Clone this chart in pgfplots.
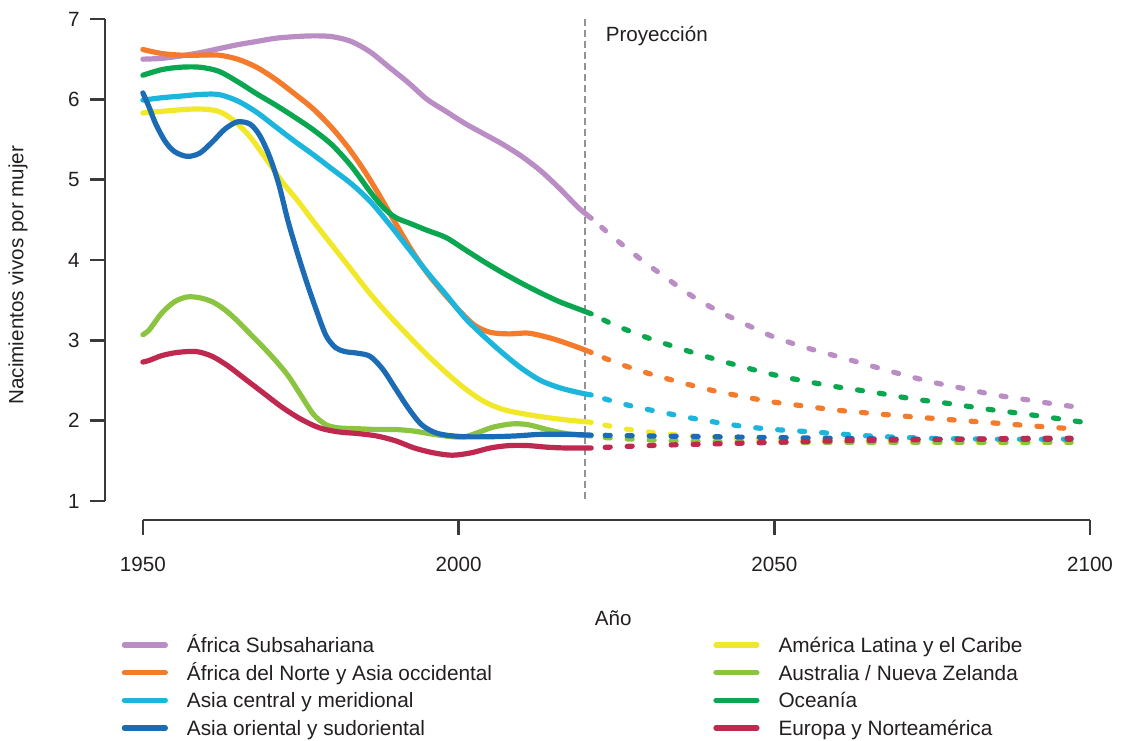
\documentclass[border=0pt]{standalone}
\usepackage{fontspec}
\setmainfont{Liberation Sans}
\usepackage{pgfplots}
\pgfplotsset{compat=1.18}

\definecolor{cSub}{HTML}{BA8DC5}
\definecolor{cNor}{HTML}{F47B2B}
\definecolor{cCen}{HTML}{1CB6DD}
\definecolor{cOri}{HTML}{1B6CB5}
\definecolor{cLat}{HTML}{F2E82A}
\definecolor{cAus}{HTML}{8BC441}
\definecolor{cOce}{HTML}{0BA650}
\definecolor{cEur}{HTML}{C0294F}
\definecolor{axisgray}{HTML}{3A3A3A}
\definecolor{txt}{HTML}{231F20}

\pgfplotsset{
  hist/.style={line width=2.6pt, line cap=round, line join=round, smooth, tension=0.5},
  proj/.style={line width=2.6pt, line cap=round, smooth, tension=0.5,
    dash pattern=on 2.5pt off 8.5pt, dash phase=4pt, forget plot},
}

\begin{document}
\begin{tikzpicture}
\begin{axis}[
  width=492.5pt, height=250.5pt, scale only axis,
  xmin=1944, xmax=2100, ymin=0.7635, ymax=7,
  clip=false,
  axis lines*=left,
  axis line style={draw=none},
  xtick={1950,2000,2050,2100},
  ytick={1,2,3,4,5,6,7},
  minor tick num=0,
  tick align=outside,
  major tick length=7.5pt,
  tick style={line width=1.2pt, color=axisgray},
  /pgf/number format/assume math mode=true,
  /pgf/number format/1000 sep={},
  ticklabel style={font=\fontsize{10.3}{12}\selectfont, text=txt, inner sep=0pt},
  xticklabel style={anchor=north, yshift=-10.8pt},
  yticklabel style={anchor=east, xshift=-5pt},
  xlabel={Año},
  ylabel={Nacimientos vivos por mujer},
  every axis x label/.style={at={(axis description cs:0.516,-0.196)}, anchor=center,
    font=\fontsize{10.3}{12}\selectfont, text=txt},
  every axis y label/.style={at={(axis description cs:-0.0883,0.489)}, rotate=90, anchor=center,
    font=\fontsize{10.3}{12}\selectfont, text=txt},
  legend columns=2,
  legend cell align=left,
  legend image code/.code={\draw[#1, line cap=round] (0pt,0pt) -- (20.5pt,0pt);},
  legend style={
    at={(axis description cs:0.017,-0.2347)}, anchor=north west,
    draw=none, fill=none, inner sep=0pt, outer sep=0pt,
    font=\fontsize{10.4}{12}\selectfont, text=txt,
    nodes={inner xsep=0pt, inner ysep=0pt, text height=7.4pt, text depth=0pt},
    row sep=6.43pt,
    /tikz/every odd column/.append style={column sep=9.5pt},
    /tikz/every even column/.append style={column sep=110.6pt},
  },
]

% axis lines, drawn apart as in the original
\draw[axisgray, line width=1.2pt] (axis cs:1944,1) -- (axis cs:1944,7);
\draw[axisgray, line width=1.2pt] (axis cs:1950,0.7635) -- (axis cs:2100,0.7635);

% start of the projection
\addplot[gray!85, line width=0.8pt, dash pattern=on 3.5pt off 2pt, forget plot]
  coordinates {(2020,7) (2020,1)};
\node[anchor=west, font=\fontsize{10.3}{12}\selectfont, text=txt] at (axis cs:2022.2,6.79) {Proyección};

% ---- observed (legend order row by row) ----
\addplot[hist, cSub] coordinates {
(1950,6.50) (1953,6.51) (1956,6.54) (1959,6.58) (1962,6.63) (1965,6.68)
(1968,6.72) (1971,6.76) (1974,6.78) (1977,6.79) (1980,6.78) (1983,6.72)
(1986,6.59) (1989,6.40) (1992,6.21) (1995,6.00) (1998,5.85) (2001,5.70)
(2004,5.57) (2007,5.44) (2010,5.29) (2013,5.11) (2016,4.89) (2019,4.65)
(2021,4.52)
};
\addlegendentry{África Subsahariana}

\addplot[hist, cLat] coordinates {
(1950,5.83) (1953,5.85) (1956,5.87) (1959,5.88) (1962,5.85) (1964.5,5.73)
(1967,5.53) (1969.5,5.26) (1972,4.98) (1974.5,4.74) (1977,4.48) (1980,4.18)
(1983,3.88) (1986,3.58) (1989,3.31) (1992,3.06) (1995,2.82) (1998,2.60)
(2001,2.40) (2004,2.24) (2007,2.14) (2010,2.09) (2013,2.05) (2017,2.01)
(2021,1.98)
};
\addlegendentry{América Latina y el Caribe}

\addplot[hist, cNor] coordinates {
(1950,6.62) (1953,6.57) (1956,6.55) (1959,6.55) (1962,6.55) (1965,6.50)
(1968,6.40) (1971,6.25) (1974,6.07) (1977,5.88) (1980,5.64) (1982.5,5.40)
(1985,5.12) (1987.5,4.80) (1990,4.46) (1992.5,4.13) (1995,3.84) (1997.5,3.60)
(2000,3.38) (2002.5,3.19) (2005,3.10) (2008,3.08) (2011,3.09) (2014,3.04)
(2016.5,2.98) (2019,2.91) (2021,2.85)
};
\addlegendentry{África del Norte y Asia occidental}

\addplot[hist, cAus] coordinates {
(1950,3.07) (1951,3.13) (1953,3.34) (1955,3.48) (1957,3.54) (1959,3.53)
(1961,3.48) (1963,3.38) (1965,3.24) (1967,3.08) (1969,2.92) (1971,2.75)
(1973,2.56) (1975,2.32) (1977,2.08) (1979,1.95) (1981,1.91) (1984,1.90)
(1987,1.89) (1990,1.89) (1993,1.87) (1996,1.83) (1999,1.80) (2001,1.80)
(2003,1.85) (2005.5,1.92) (2008.5,1.96) (2011,1.95) (2014,1.89) (2017,1.84)
(2021,1.81)
};
\addlegendentry{Australia / Nueva Zelanda}

\addplot[hist, cCen] coordinates {
(1950,5.99) (1953,6.02) (1956,6.04) (1959,6.06) (1962,6.06) (1965,5.98)
(1968,5.84) (1971,5.66) (1974,5.48) (1977,5.31) (1980,5.13) (1983,4.95)
(1986,4.73) (1989,4.45) (1992,4.15) (1995,3.85) (1998,3.57) (2001,3.28)
(2004,3.05) (2007,2.84) (2010,2.65) (2013,2.50) (2016,2.41) (2019,2.35)
(2021,2.32)
};
\addlegendentry{Asia central y meridional}

\addplot[hist, cOce] coordinates {
(1950,6.30) (1953,6.37) (1956,6.40) (1959,6.40) (1962,6.35) (1965,6.22)
(1968,6.07) (1971,5.93) (1974,5.78) (1977,5.62) (1980,5.43) (1983,5.17)
(1986,4.85) (1988,4.66) (1990,4.53) (1992.5,4.45) (1995,4.37) (1998,4.28)
(2001,4.13) (2004,3.98) (2007,3.84) (2010,3.71) (2013,3.59) (2016,3.48)
(2019,3.39) (2021,3.33)
};
\addlegendentry{Oceanía}

\addplot[hist, cOri] coordinates {
(1950,6.08) (1951,5.90) (1952,5.70) (1953.5,5.48) (1955,5.35) (1957,5.29)
(1959,5.33) (1961,5.47) (1963,5.63) (1965,5.72) (1967,5.69) (1968.5,5.55)
(1970,5.30) (1971.5,4.95) (1973,4.48) (1974.5,4.08) (1976,3.71) (1977.5,3.37)
(1979,3.06) (1980.5,2.91) (1982,2.86) (1984,2.84) (1986,2.80) (1988,2.64)
(1990,2.40) (1992,2.16) (1994,1.96) (1996,1.86) (1998,1.82) (2001,1.80)
(2005,1.80) (2009,1.81) (2013,1.83) (2017,1.83) (2021,1.82)
};
\addlegendentry{Asia oriental y sudoriental}

\addplot[hist, cEur] coordinates {
(1950,2.73) (1951,2.75) (1953,2.81) (1955.5,2.85) (1958.5,2.86) (1961,2.80)
(1963.5,2.68) (1966,2.53) (1969,2.35) (1972,2.17) (1975,2.02) (1978,1.91)
(1981,1.86) (1984,1.84) (1987,1.81) (1990,1.75) (1993,1.66) (1996,1.60)
(1999,1.57) (2002,1.60) (2005,1.66) (2008,1.69) (2011,1.69) (2014,1.67)
(2017,1.66) (2021,1.66)
};
\addlegendentry{Europa y Norteamérica}

% ---- projections ----
\addplot[proj, cSub] coordinates {
(2021,4.52) (2025,4.25) (2029,4.00) (2033,3.77) (2037,3.55) (2041,3.37)
(2046,3.18) (2050,3.04) (2055,2.91) (2060,2.80) (2065,2.69) (2070,2.58)
(2075,2.48) (2080,2.40) (2085,2.32) (2090,2.26) (2095,2.20) (2099,2.16)
};
\addplot[proj, cLat] coordinates {
(2021,1.98) (2027,1.89) (2035,1.82) (2045,1.78) (2055,1.75) (2065,1.74)
(2080,1.73) (2097,1.73)
};
\addplot[proj, cNor] coordinates {
(2021,2.85) (2025,2.72) (2030,2.59) (2035,2.48) (2040,2.38) (2045,2.30)
(2050,2.23) (2055,2.18) (2060,2.13) (2070,2.06) (2080,2.00) (2090,1.94)
(2097,1.90)
};
\addplot[proj, cAus] coordinates {
(2021,1.80) (2030,1.76) (2040,1.74) (2050,1.73) (2060,1.73) (2070,1.73)
(2080,1.73) (2090,1.73) (2097,1.73)
};
\addplot[proj, cCen] coordinates {
(2021,2.32) (2027,2.19) (2035,2.06) (2040,1.99) (2045,1.93) (2050,1.89)
(2056,1.86) (2065,1.81) (2075,1.78) (2085,1.77) (2097,1.77)
};
\addplot[proj, cOce] coordinates {
(2021,3.33) (2025,3.18) (2030,3.03) (2035,2.90) (2040,2.78) (2045,2.67)
(2050,2.57) (2055,2.49) (2060,2.42) (2066,2.35) (2072,2.27) (2078,2.21)
(2084,2.14) (2090,2.08) (2099,1.98)
};
\addplot[proj, cOri] coordinates {
(2021,1.82) (2030,1.81) (2040,1.80) (2050,1.79) (2060,1.78) (2070,1.77)
(2080,1.77) (2090,1.77) (2097,1.77)
};
\addplot[proj, cEur] coordinates {
(2021,1.66) (2030,1.69) (2040,1.71) (2050,1.73) (2060,1.75) (2070,1.76)
(2080,1.77) (2090,1.78) (2097,1.78)
};

\end{axis}
\pgfresetboundingbox
\path (-52.5pt,-110pt) rectangle (509pt,260pt);
\end{tikzpicture}
\end{document}
